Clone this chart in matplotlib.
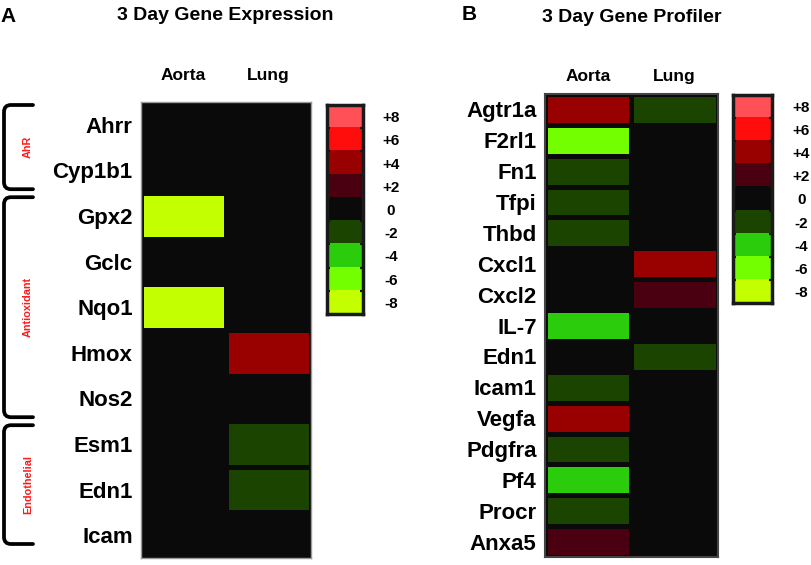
import numpy as np
import matplotlib
matplotlib.use("Agg")
import matplotlib.pyplot as plt
from matplotlib.colors import ListedColormap, BoundaryNorm
from matplotlib.path import Path
from matplotlib.patches import PathPatch

plt.rcParams["font.family"] = ["Liberation Sans", "DejaVu Sans"]
plt.rcParams["font.weight"] = "bold"

# ── data ─────────────────────────────────────────────
tissues = ["Aorta", "Lung"]

genes_a = ["Ahrr", "Cyp1b1", "Gpx2", "Gclc", "Nqo1", "Hmox", "Nos2", "Esm1", "Edn1", "Icam"]
aorta_a = [0, 0, -8, 0, -8, 0, 0, 0, 0, 0]
lung_a  = [0, 0, 0, 0, 0, 4, 0, -2, -2, 0]

genes_b = ["Agtr1a", "F2rl1", "Fn1", "Tfpi", "Thbd", "Cxcl1", "Cxcl2", "IL-7", "Edn1",
           "Icam1", "Vegfa", "Pdgfra", "Pf4", "Procr", "Anxa5"]
aorta_b = [4, -6, -2, -2, -2, 0, 0, -4, 0, -2, 4, -2, -4, -2, 2]
lung_b  = [-2, 0, 0, 0, 0, 4, 2, 0, -2, 0, 0, 0, 0, 0, 0]

levels = [8, 6, 4, 2, 0, -2, -4, -6, -8]
level_labels = ["+8", "+6", "+4", "+2", "0", "-2", "-4", "-6", "-8"]

groups = [("AhR", 0, 2), ("Antioxidant", 2, 7), ("Endothelial", 7, 10)]

# colours from -8 to +8
COLORS = ["#c4ff00", "#74ff00", "#2bcc0c", "#1b4400", "#0a0a0a",
          "#4a0010", "#990000", "#ff0d0d", "#ff5058"]
cmap = ListedColormap(COLORS)
norm = BoundaryNorm(np.arange(-9, 10, 2), cmap.N)
BLACK = "#0a0a0a"

W, H = 812, 565
fig = plt.figure(figsize=(W / 100, H / 100), dpi=100, facecolor="white")


def px_axes(x0, y0, x1, y1):
    return fig.add_axes([x0 / W, 1 - y1 / H, (x1 - x0) / W, (y1 - y0) / H])


def heatmap(ax, genes, aorta, lung, spine_col, spine_w, col_pad):
    vals = np.column_stack([aorta, lung])
    ax.set_facecolor(BLACK)
    ax.pcolormesh(vals, cmap=cmap, norm=norm, edgecolors=BLACK, linewidth=2.2)
    ax.set_ylim(len(genes), 0)
    ax.set_xlim(0, 2)
    ax.set_yticks(np.arange(len(genes)) + 0.5)
    ax.set_yticklabels(genes, fontsize=16, fontweight="bold")
    ax.set_xticks([0.5, 1.5])
    ax.set_xticklabels(tissues, fontsize=12.5, fontweight="bold")
    ax.xaxis.tick_top()
    ax.tick_params(axis="y", length=0, pad=6)
    ax.tick_params(axis="x", length=0, pad=col_pad)
    for sp in ax.spines.values():
        sp.set_edgecolor(spine_col)
        sp.set_linewidth(spine_w)


def colorbar(ax, pad):
    cb_vals = np.array(levels).reshape(-1, 1)
    ax.set_facecolor(BLACK)
    ax.pcolormesh(cb_vals, cmap=cmap, norm=norm, edgecolors="face",
                  linewidth=0.3, antialiased=False)
    ax.set_ylim(len(levels), 0)
    ax.set_xlim(0, 1)
    ax.set_xticks([])
    ax.yaxis.tick_right()
    ax.set_yticks(np.arange(len(levels)) + 0.5)
    ax.set_yticklabels(level_labels, fontsize=11, fontweight="bold", ha="center")
    ax.tick_params(axis="y", which="major", length=0, pad=pad)
    # little boundary marks on both inner edges
    for b in range(1, len(levels)):
        ax.plot([0, 0.07], [b, b], color="#111111", lw=1.6, solid_capstyle="butt")
        ax.plot([0.93, 1], [b, b], color="#111111", lw=1.6, solid_capstyle="butt")
    for sp in ax.spines.values():
        sp.set_edgecolor("#1a1a1a")
        sp.set_linewidth(2.5)


# Panel A
ax_a = px_axes(141, 102, 311, 558)
heatmap(ax_a, genes_a, aorta_a, lung_a, "#9a9a9a", 1.0, 14)
cb_a = px_axes(327, 105, 363, 314)
colorbar(cb_a, 20)

# Panel B
ax_b = px_axes(545, 94, 718, 557)
heatmap(ax_b, genes_b, aorta_b, lung_b, "#444444", 1.5, 7)
cb_b = px_axes(733, 95, 772, 303)
colorbar(cb_b, 21)

# titles
fig.text(0 / W, 1 - 16 / H, "A", fontsize=15, fontweight="bold", va="center", ha="left")
fig.text(225 / W, 1 - 16 / H, "3 Day Gene Expression", fontsize=14, fontweight="bold",
         va="center", ha="center")
fig.text(462 / W, 1 - 15 / H, "B", fontsize=15, fontweight="bold", va="center", ha="left")
fig.text(632 / W, 1 - 17 / H, "3 Day Gene Profiler", fontsize=14, fontweight="bold",
         va="center", ha="center")

# group brackets, drawn in pixel space of the figure
ov = fig.add_axes([0, 0, 1, 1], facecolor="none")
ov.set_xlim(0, W)
ov.set_ylim(H, 0)
ov.axis("off")

row_h = (558 - 102) / len(genes_a)


def bracket(y0, y1, label):
    xv, xa, r = 4, 33, 7
    verts = [(xa, y0), (xv + r, y0), (xv, y0), (xv, y0 + r),
             (xv, y1 - r), (xv, y1), (xv + r, y1), (xa, y1)]
    codes = [Path.MOVETO, Path.LINETO, Path.CURVE3, Path.CURVE3,
             Path.LINETO, Path.CURVE3, Path.CURVE3, Path.LINETO]
    ov.add_patch(PathPatch(Path(verts, codes), fill=False, lw=2.7, ec="black",
                           capstyle="round"))
    ov.text(28, (y0 + y1) / 2, label, rotation=90, color="#ff1a1a", fontsize=7.8,
            fontweight="bold", ha="center", va="center")


for name, i0, i1 in groups:
    y0 = 102 + i0 * row_h + (3 if i0 == 0 else 4)
    y1 = 102 + i1 * row_h - 4
    if i1 == len(genes_a):
        y1 = 102 + i1 * row_h - 14
    bracket(y0, y1, name)

fig.savefig("out.png", dpi=100, facecolor="white")
